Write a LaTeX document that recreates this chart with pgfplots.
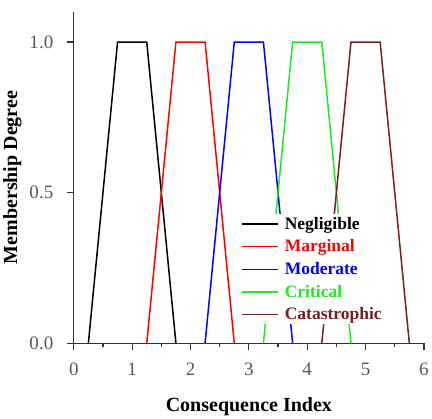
\documentclass[border=0pt]{standalone}
\usepackage{pgfplots}
\pgfplotsset{compat=1.18}
\usepackage{fontspec}
\setmainfont{Liberation Serif}
\definecolor{cgreen}{RGB}{30,235,30}
\definecolor{cbrown}{RGB}{120,30,30}
\begin{document}
\begin{tikzpicture}
\begin{axis}[
    scale only axis,
    width=350pt,height=331pt,
    xmin=0,xmax=6,ymin=0,ymax=1.1,
    axis lines=left,
    axis line style={-,line width=1pt,black!80},
    xtick={0,1,2,3,4,5,6},
    minor xtick={0.5,1.5,2.5,3.5,4.5,5.5},
    ytick={0,0.5,1},
    yticklabels={0.0,0.5,1.0},
    tick align=outside,
    major tick length=7pt,
    minor tick length=4pt,
    major tick style={draw=black!80,line width=1.2pt},
    minor tick style={draw=black!80,line width=1.2pt},
    xticklabel shift=9pt,
    yticklabel shift=10pt,
    ticklabel style={font=\fontsize{19}{21}\selectfont,text=black!65},
    /pgf/number format/assume math mode=true,
    xlabel={\textbf{Consequence Index}},
    ylabel={\textbf{Membership Degree}},
    label style={font=\fontsize{20}{22}\selectfont},
    xlabel style={yshift=-15pt},
    ylabel style={yshift=1pt},
    legend cell align=left,
    legend style={at={(rel axis cs:0.475,0.39)},anchor=north west,
        draw=none,fill=white,inner sep=1pt,
        font=\fontsize{17.5}{19}\selectfont\bfseries,
        row sep=5pt},
    legend image code/.code={\draw[#1,line width=1.5pt] (0pt,0pt) -- (36pt,0pt); \path (40pt,0pt);},
]
\addplot[black,line width=1.5pt] coordinates {(0.25,0)(0.75,1)(1.25,1)(1.75,0)};
\addlegendentry{\textcolor{black}{Negligible}}
\addplot[red,line width=1.5pt] coordinates {(1.25,0)(1.75,1)(2.25,1)(2.75,0)};
\addlegendentry{\textcolor{red}{Marginal}}
\addplot[blue,line width=1.5pt] coordinates {(2.25,0)(2.75,1)(3.25,1)(3.75,0)};
\addlegendentry{\textcolor{blue}{Moderate}}
\addplot[cgreen,line width=1.5pt] coordinates {(3.25,0)(3.75,1)(4.25,1)(4.75,0)};
\addlegendentry{\textcolor{cgreen}{Critical}}
\addplot[cbrown,line width=1.5pt] coordinates {(4.25,0)(4.75,1)(5.25,1)(5.75,0)};
\addlegendentry{\textcolor{cbrown}{Catastrophic}}
\end{axis}
% room above the axis, as in the reference
\path (0pt,343pt);
\end{tikzpicture}
\end{document}
